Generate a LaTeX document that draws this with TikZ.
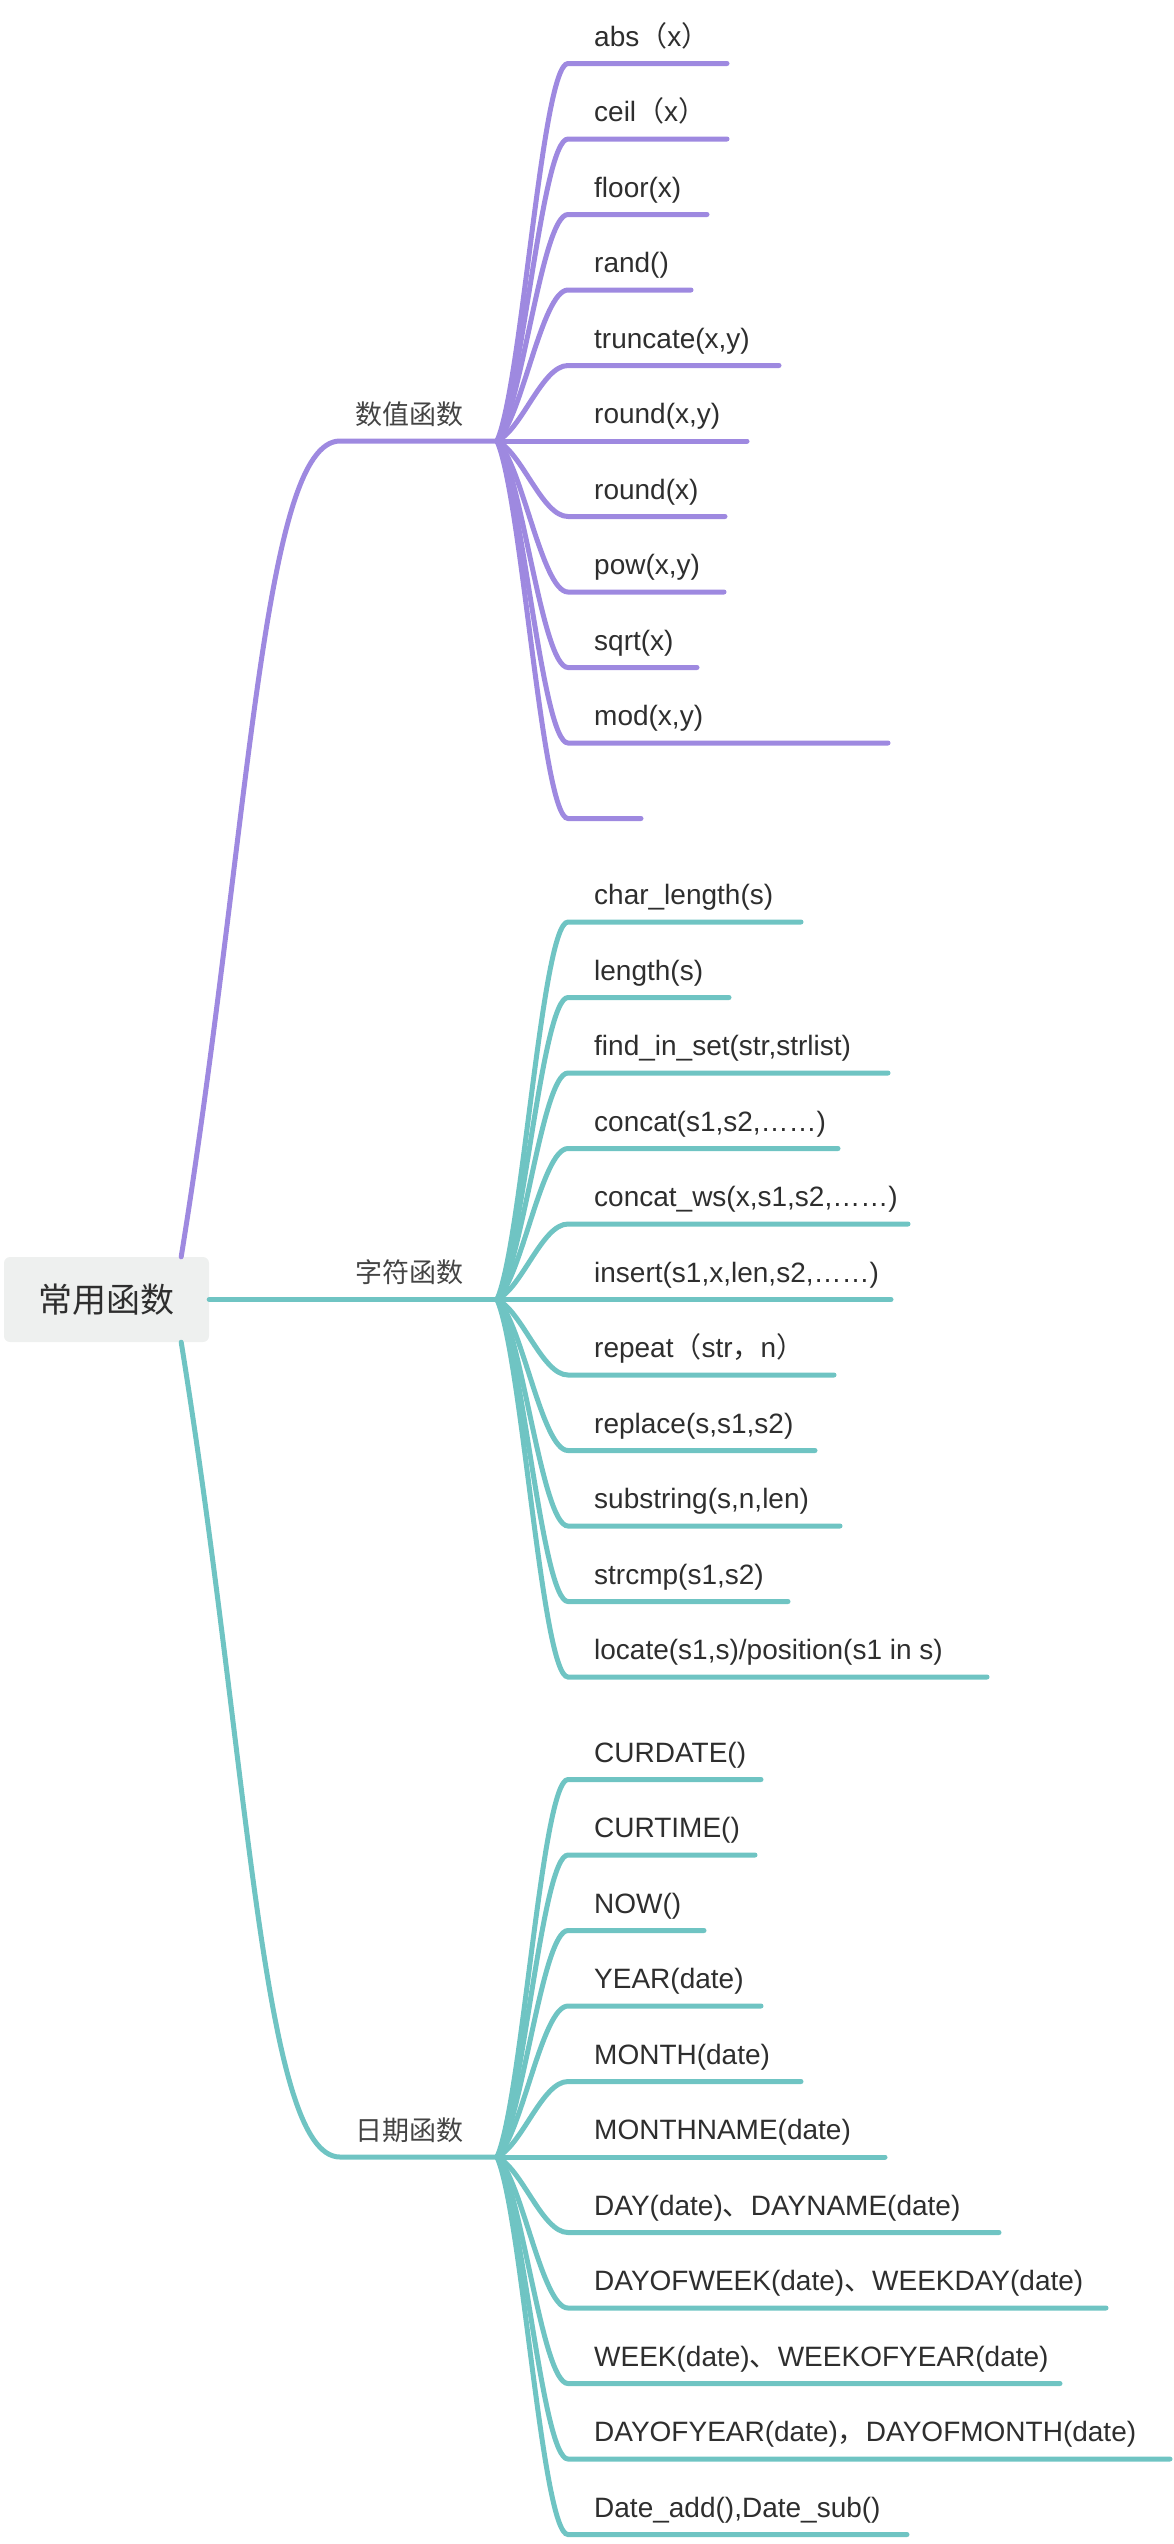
\documentclass[tikz,border=0pt]{standalone}
\usepackage{fontspec}
\setmainfont{Liberation Sans}
\newfontfamily\cjk{Noto Sans CJK SC}
\usetikzlibrary{calc}
\definecolor{numcol}{HTML}{9E89E0}
\definecolor{strcol}{HTML}{6FC4C3}
\definecolor{rootgray}{HTML}{EEF0EF}
\definecolor{ink}{HTML}{2E2E2E}
\definecolor{catgray}{HTML}{444444}
\newcommand{\zw}[1]{{\cjk #1}}

\begin{document}
\begin{tikzpicture}[x=1pt, y=-1pt, line cap=round,
    root/.style={fill=rootgray, rounded corners=6pt, minimum width=205pt, minimum height=85pt, inner sep=0pt, text=ink, font=\cjk\fontsize{34pt}{40pt}\selectfont},
    cat/.style={anchor=base, inner sep=0pt, text=catgray, font=\cjk\fontsize{27pt}{32pt}\selectfont},
    leaf/.style={anchor=south west, inner xsep=26pt, inner ysep=10pt, text height=21pt, text depth=7pt, text=ink, font=\fontsize{28pt}{32pt}\selectfont},
    numline/.style={draw=numcol, line width=5pt},
    strline/.style={draw=strcol, line width=5pt},
    twig/.style={to path={let \p1=(\tikztostart), \p2=(\tikztotarget) in .. controls (\x1+25pt, {\y1+0.15*((\y2)-(\y1))}) and (\x2-26pt, \y2) .. (\tikztotarget)}}]
    \useasboundingbox (0,0) rectangle (1174,2544);

    \node[root] (root) at (106.5,1299.5) {常用函数};

    \node[cat] (num) at (409,424) {数值函数};
    \node[cat] (str) at (409,1282.5) {字符函数};
    \node[cat] (date) at (409,2140) {日期函数};
    \coordinate (numbend) at (340,441);
    \coordinate (datebend) at (340,2157);
    \coordinate (numhub) at (497,441);
    \coordinate (strhub) at (497,1299.5);
    \coordinate (datehub) at (497,2157);

    \node[leaf] (n1) at (568,63.5) {abs\zw{（}x\zw{）}};
    \node[leaf] (n2) at (568,139) {ceil\zw{（}x\zw{）}};
    \node[leaf] (n3) at (568,214.5) {floor(x)};
    \node[leaf] (n4) at (568,290) {rand()};
    \node[leaf] (n5) at (568,365.5) {truncate(x,y)};
    \node[leaf] (n6) at (568,441) {round(x,y)};
    \node[leaf] (n7) at (568,516.5) {round(x)};
    \node[leaf] (n8) at (568,592) {pow(x,y)};
    \node[leaf] (n9) at (568,667.5) {sqrt(x)};
    \node[leaf] (n10) at (568,743) {mod(x,y)};
    \node[leaf] (n11) at (568,818.5) {};

    \node[leaf] (s1) at (568,922) {char\_length(s)};
    \node[leaf] (s2) at (568,997.5) {length(s)};
    \node[leaf] (s3) at (568,1073) {find\_in\_set(str,strlist)};
    \node[leaf] (s4) at (568,1148.5) {concat(s1,s2,……)};
    \node[leaf] (s5) at (568,1224) {concat\_ws(x,s1,s2,……)};
    \node[leaf] (s6) at (568,1299.5) {insert(s1,x,len,s2,……)};
    \node[leaf] (s7) at (568,1375) {repeat\zw{（}str\zw{，}n\zw{）}};
    \node[leaf] (s8) at (568,1450.5) {replace(s,s1,s2)};
    \node[leaf] (s9) at (568,1526) {substring(s,n,len)};
    \node[leaf] (s10) at (568,1601.5) {strcmp(s1,s2)};
    \node[leaf] (s11) at (568,1677) {locate(s1,s)/position(s1 in s)};

    \node[leaf] (d1) at (568,1779.5) {CURDATE()};
    \node[leaf] (d2) at (568,1855) {CURTIME()};
    \node[leaf] (d3) at (568,1930.5) {NOW()};
    \node[leaf] (d4) at (568,2006) {YEAR(date)};
    \node[leaf] (d5) at (568,2081.5) {MONTH(date)};
    \node[leaf] (d6) at (568,2157) {MONTHNAME(date)};
    \node[leaf] (d7) at (568,2232.5) {DAY(date)\zw{、}DAYNAME(date)};
    \node[leaf] (d8) at (568,2308) {DAYOFWEEK(date)\zw{、}WEEKDAY(date)};
    \node[leaf] (d9) at (568,2383.5) {WEEK(date)\zw{、}WEEKOFYEAR(date)};
    \node[leaf] (d10) at (568,2459) {DAYOFYEAR(date)\zw{，}DAYOFMONTH(date)};
    \node[leaf] (d11) at (568,2534.5) {Date\_add(),Date\_sub()};

    \draw[numline] ([xshift=-28pt]root.north east) .. controls (250,830) and (262,441) .. (numbend) -- (numhub);
    \draw[strline] (root.east) -- (strhub);
    \draw[strline] ([xshift=-28pt]root.south east) .. controls (250,1768) and (262,2157) .. (datebend) -- (datehub);

    \draw[numline] (numhub) to[twig] (n1.south west) -- ++(159,0);
    \draw[numline] (numhub) to[twig] (n2.south west) -- ++(159,0);
    \draw[numline] (numhub) to[twig] (n3.south west) -- ++(139,0);
    \draw[numline] (numhub) to[twig] (n4.south west) -- ++(123,0);
    \draw[numline] (numhub) to[twig] (n5.south west) -- ++(211,0);
    \draw[numline] (numhub) to[twig] (n6.south west) -- ++(179,0);
    \draw[numline] (numhub) to[twig] (n7.south west) -- ++(157,0);
    \draw[numline] (numhub) to[twig] (n8.south west) -- ++(156,0);
    \draw[numline] (numhub) to[twig] (n9.south west) -- ++(129,0);
    \draw[numline] (numhub) to[twig] (n10.south west) -- ++(320,0);
    \draw[numline] (numhub) to[twig] (n11.south west) -- ++(73,0);

    \draw[strline] (strhub) to[twig] (s1.south west) -- ++(233,0);
    \draw[strline] (strhub) to[twig] (s2.south west) -- ++(161,0);
    \draw[strline] (strhub) to[twig] (s3.south west) -- ++(320,0);
    \draw[strline] (strhub) to[twig] (s4.south west) -- ++(270,0);
    \draw[strline] (strhub) to[twig] (s5.south west) -- ++(340,0);
    \draw[strline] (strhub) to[twig] (s6.south west) -- ++(323,0);
    \draw[strline] (strhub) to[twig] (s7.south west) -- ++(266,0);
    \draw[strline] (strhub) to[twig] (s8.south west) -- ++(247,0);
    \draw[strline] (strhub) to[twig] (s9.south west) -- ++(272,0);
    \draw[strline] (strhub) to[twig] (s10.south west) -- ++(220,0);
    \draw[strline] (strhub) to[twig] (s11.south west) -- ++(419,0);

    \draw[strline] (datehub) to[twig] (d1.south west) -- ++(193,0);
    \draw[strline] (datehub) to[twig] (d2.south west) -- ++(187,0);
    \draw[strline] (datehub) to[twig] (d3.south west) -- ++(136,0);
    \draw[strline] (datehub) to[twig] (d4.south west) -- ++(193,0);
    \draw[strline] (datehub) to[twig] (d5.south west) -- ++(233,0);
    \draw[strline] (datehub) to[twig] (d6.south west) -- ++(317,0);
    \draw[strline] (datehub) to[twig] (d7.south west) -- ++(431,0);
    \draw[strline] (datehub) to[twig] (d8.south west) -- ++(538,0);
    \draw[strline] (datehub) to[twig] (d9.south west) -- ++(492,0);
    \draw[strline] (datehub) to[twig] (d10.south west) -- ++(602,0);
    \draw[strline] (datehub) to[twig] (d11.south west) -- ++(339,0);
\end{tikzpicture}
\end{document}
